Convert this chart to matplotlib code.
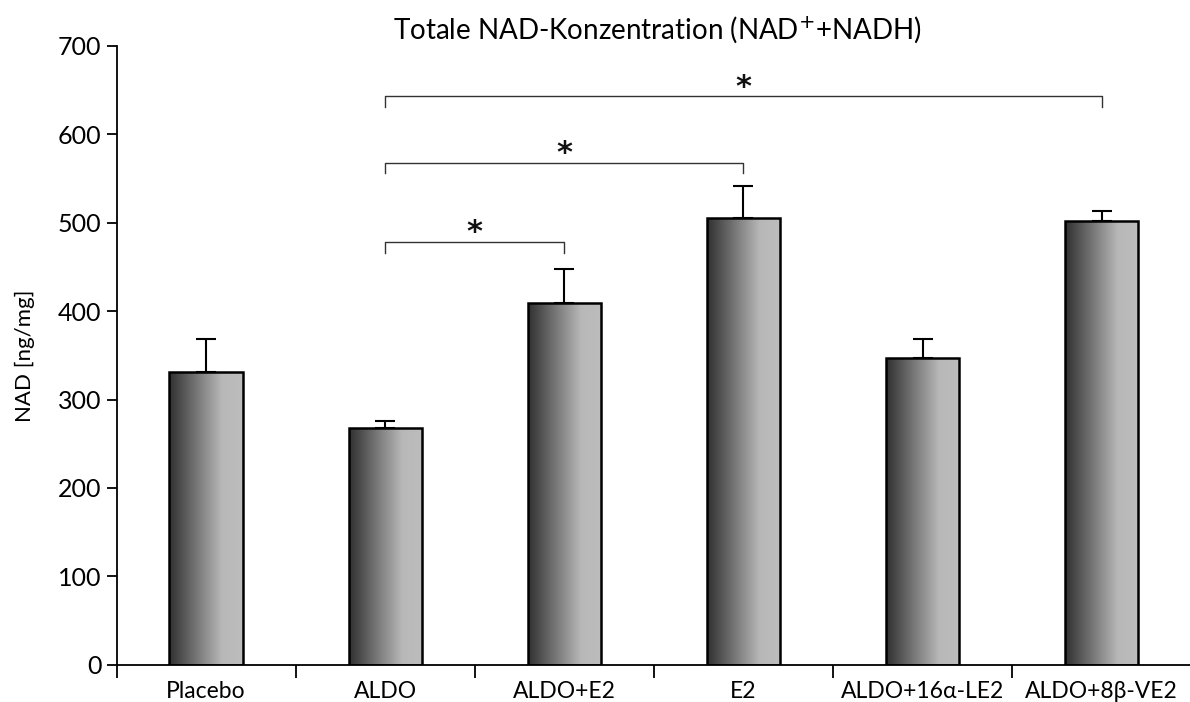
import numpy as np
import matplotlib
matplotlib.use("Agg")
import matplotlib.pyplot as plt
from matplotlib.colors import LinearSegmentedColormap

plt.rcParams['font.family'] = ['Lato', 'DejaVu Sans']

categories = ["Placebo", "ALDO", "ALDO+E2", "E2", "ALDO+16\u03b1-LE2", "ALDO+8\u03b2-VE2"]
means = [331, 268, 409, 505, 347, 502]
errors = [38, 8, 39, 36, 22, 11]

# significance brackets: (from index, to index, bracket height)
brackets = [(1, 2, 478), (1, 3, 568), (1, 5, 643)]

fig = plt.figure(figsize=(11.9, 7.02), dpi=100)
ax = fig.add_axes([0.098, 0.053, 0.903, 0.8817])

x = np.arange(len(categories))
width = 0.41

cmap = LinearSegmentedColormap.from_list(
    "bargrad", [(0.0, "#303030"), (0.72, "#b8b8b8"), (1.0, "#bdbdbd")])
grad = np.linspace(0, 1, 256).reshape(1, -1)

for xi, m, e in zip(x, means, errors):
    ax.imshow(grad, cmap=cmap, aspect="auto", interpolation="bicubic",
              extent=[xi - width / 2, xi + width / 2, 0, m], zorder=2)
    ax.bar(xi, m, width=width, facecolor="none", edgecolor="black",
           linewidth=1.8, zorder=3)
    ax.errorbar(xi, m, yerr=[[0], [e]], fmt="none", ecolor="black",
                elinewidth=1.5, capsize=7, capthick=1.5, zorder=3)

for i, j, h in brackets:
    drop = 12
    ax.plot([x[i], x[i], x[j], x[j]], [h - drop, h, h, h - drop],
            color="#333333", linewidth=1.0, zorder=4, clip_on=False)
    ax.text((x[i] + x[j]) / 2, h - 6, "*", ha="center", va="bottom",
            fontsize=22, color="#111111", family="DejaVu Sans",
            fontweight="bold")

ax.set_xlim(-0.5, 5.5)
ax.set_ylim(0, 700)
ax.set_yticks(np.arange(0, 701, 100))
ax.set_xticks(np.arange(-0.5, 5.5, 1.0))
ax.set_xticklabels([])
ax.set_xticks(x, minor=True)
ax.set_xticklabels(categories, minor=True, fontsize=16.5)
ax.tick_params(axis="x", which="minor", length=0, pad=12)
ax.tick_params(axis="x", which="major", length=9, width=1.3, direction="out")
ax.tick_params(axis="y", length=7, width=1.3, direction="out", labelsize=18, pad=4)

for s in ["top", "right"]:
    ax.spines[s].set_visible(False)
ax.spines["left"].set_linewidth(1.3)
ax.spines["bottom"].set_linewidth(1.3)

ax.set_ylabel("NAD [ng/mg]", fontsize=16, labelpad=16)
ax.set_title("Totale NAD-Konzentration (NAD$^{+}$+NADH)", fontsize=20, pad=3,
             x=0.503)

fig.savefig("out.png", dpi=100)
